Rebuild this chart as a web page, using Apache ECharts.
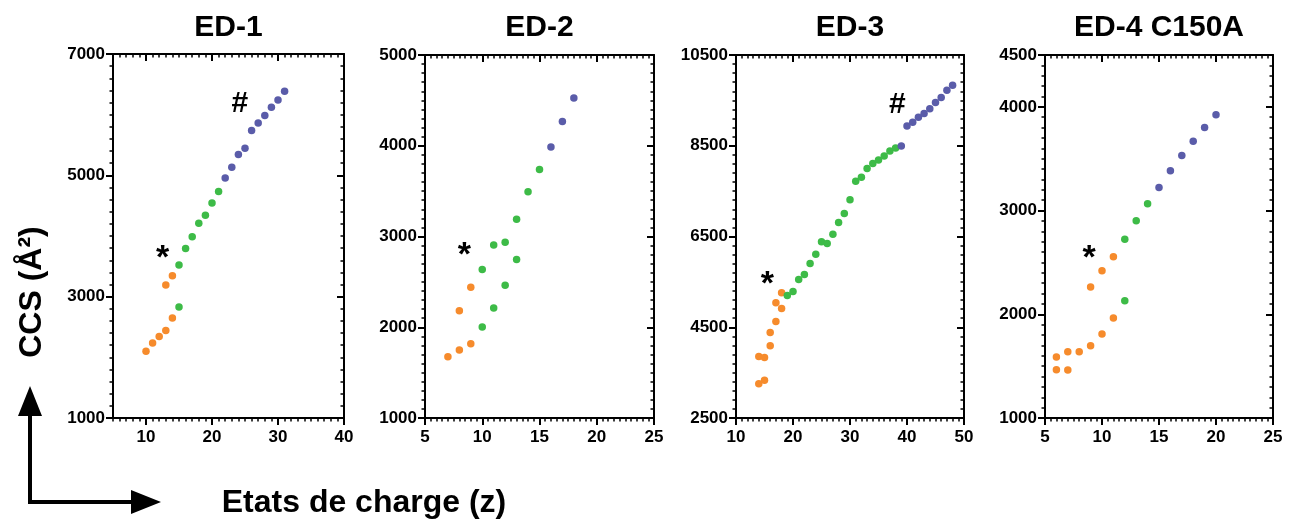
<!DOCTYPE html>
<html><head><meta charset="utf-8">
<script src="https://cdn.jsdelivr.net/npm/echarts@6/dist/echarts.min.js"></script>
<style>html,body{margin:0;padding:0;background:#fff}#c{width:1293px;height:523px}</style>
</head><body><div id="c"></div>
<script>
// ---------- data ----------
const titles = ['ED-1', 'ED-2', 'ED-3', 'ED-4 C150A'];
const yTitle = 'CCS (Å²)';
const xTitle = 'Etats de charge (z)';

const xRanges = [[5, 40], [5, 25], [10, 50], [5, 25]];
const yRanges = [[1000, 7000], [1000, 5000], [2500, 10500], [1000, 4500]];
const xTicks = [[10, 20, 30, 40], [5, 10, 15, 20, 25], [10, 20, 30, 40, 50], [5, 10, 15, 20, 25]];
const yTicks = [[1000, 3000, 5000, 7000], [1000, 2000, 3000, 4000, 5000], [2500, 4500, 6500, 8500, 10500], [1000, 2000, 3000, 4000, 4500]];
const xMinorStep = [1, 0.5, 1, 0.5];
const yMinorStep = [200, 100, 200, 100];

const ed1Orange = [[10,2100],[11,2235],[12,2345],[13,2444],[14,2647],[13,3191],[14,3344]];
const ed1Green  = [[15,2828],[15,3520],[16,3794],[17,3987],[18,4212],[19,4343],[20,4546],[21,4733]];
const ed1Blue   = [[22,4958],[23,5134],[24,5342],[25,5447],[26,5738],[27,5864],[28,5985],[29,6122],[30,6243],[31,6385]];

const ed2Orange = [[7,1675],[8,1749],[9,1818],[8,2182],[9,2442]];
const ed2Green  = [[10,2002],[10,2637],[11,2211],[11,2905],[12,2464],[12,2938],[13,2747],[13,3191],[14,3492],[15,3738]];
const ed2Blue   = [[16,3987],[17,4266],[18,4527]];

const ed3Orange = [[14,3858],[14,3256],[15,3836],[15,3330],[16,4387],[16,4093],[17,4629],[17,5040],[18,4915],[18,5260]];
const ed3Green  = [[19,5201],[20,5289],[21,5553],[22,5664],[23,5906],[24,6111],[25,6383],[26,6346],[27,6552],[28,6809],
                   [29,7007],[30,7308],[31,7719],[32,7807],[33,7997],[34,8107],[35,8188],[36,8276],[37,8386],[38,8452]];
const ed3Blue   = [[39,8496],[40,8937],[41,9018],[42,9128],[43,9208],[44,9318],[45,9451],[46,9561],[47,9722],[48,9832]];

const ed4Orange = [[6,1588],[6,1466],[7,1639],[7,1462],[8,1639],[9,1697],[9,2262],[10,1809],[10,2419],[11,1963],[11,2554]];
const ed4Green  = [[12,2130],[12,2724],[13,2901],[14,3065]];
const ed4Blue   = [[15,3222],[16,3383],[17,3530],[18,3668],[19,3800],[20,3925]];

const ed1Notes = [[12.5, 3800, '*'], [24.2, 6190, '#']];
const ed2Notes = [[8.43, 2897, '*']];
const ed3Notes = [[15.5, 5649, '*'], [38.3, 9436, '#']];
const ed4Notes = [[8.86, 2631, '*']];

const panelOrange = [ed1Orange, ed2Orange, ed3Orange, ed4Orange];
const panelGreen  = [ed1Green, ed2Green, ed3Green, ed4Green];
const panelBlue   = [ed1Blue, ed2Blue, ed3Blue, ed4Blue];
const panelNotes  = [ed1Notes, ed2Notes, ed3Notes, ed4Notes];

// ---------- layout / style ----------
const gridBoxes = [
  {left: 113, top: 54, width: 231, height: 364},
  {left: 425, top: 55, width: 229, height: 363},
  {left: 736, top: 55, width: 228, height: 363},
  {left: 1045, top: 55, width: 228, height: 363}
];
const FONT = '"Liberation Sans", Arial, Helvetica, sans-serif';
const colors = {orange: '#F68B2C', green: '#3DBB47', blue: '#5A5CA9'};

const grids = [], xAxes = [], yAxes = [], series = [], graphics = [];
const axisIdx = [];

function axisGroup(dim, gi, range, ticks, step, list) {
  const mainPos = dim === 'x' ? 'bottom' : 'left';
  const oppPos = dim === 'x' ? 'top' : 'right';
  const base = {type: 'value', gridIndex: gi, min: range[0], max: range[1], interval: step,
    splitLine: {show: false}, minorTick: {show: false}, scale: true};
  const mainIndex = list.length;
  list.push(Object.assign({}, base, {
    position: mainPos,
    axisLine: {show: true, onZero: false, lineStyle: {color: '#000', width: 2}},
    axisTick: {show: true, inside: false, length: 3.5, lineStyle: {color: '#000', width: 1.5}},
    axisLabel: {show: true, customValues: ticks, color: '#000', fontFamily: FONT, fontWeight: 'bold',
      fontSize: 17, margin: dim === 'x' ? 11 : 8, formatter: v => String(v)}
  }));
  list.push(Object.assign({}, base, {
    position: mainPos,
    axisLine: {show: false, onZero: false},
    axisTick: {show: true, inside: false, length: 7, customValues: ticks, lineStyle: {color: '#000', width: 2}},
    axisLabel: {show: false}
  }));
  list.push(Object.assign({}, base, {
    position: oppPos,
    axisLine: {show: true, onZero: false, lineStyle: {color: '#000', width: 2}},
    axisTick: {show: true, inside: true, length: 3.5, lineStyle: {color: '#000', width: 1.5}},
    axisLabel: {show: false}
  }));
  list.push(Object.assign({}, base, {
    position: oppPos,
    axisLine: {show: false, onZero: false},
    axisTick: {show: true, inside: true, length: 7, customValues: ticks, lineStyle: {color: '#000', width: 2}},
    axisLabel: {show: false}
  }));
  return mainIndex;
}

for (let i = 0; i < 4; i++) {
  grids.push(Object.assign({containLabel: false, outerBoundsMode: 'none'}, gridBoxes[i]));
  const xi = axisGroup('x', i, xRanges[i], xTicks[i], xMinorStep[i], xAxes);
  const yi = axisGroup('y', i, yRanges[i], yTicks[i], yMinorStep[i], yAxes);
  axisIdx.push([xi, yi]);
  [[panelOrange[i], colors.orange], [panelGreen[i], colors.green], [panelBlue[i], colors.blue]].forEach(([d, c]) => {
    series.push({type: 'scatter', xAxisIndex: xi, yAxisIndex: yi, data: d, symbol: 'circle', symbolSize: 7.5,
      itemStyle: {color: c, opacity: 1}, silent: true, z: 3});
  });
  graphics.push({type: 'text', x: gridBoxes[i].left + gridBoxes[i].width / 2, y: 28,
    style: {text: titles[i], fill: '#000', font: 'bold 30px ' + FONT, textAlign: 'center', textVerticalAlign: 'middle'}});
}

graphics.push({type: 'text', x: 32, y: 292, rotation: Math.PI / 2,
  style: {text: yTitle, fill: '#000', font: 'bold 32px ' + FONT, textAlign: 'center', textVerticalAlign: 'middle'}});
graphics.push({type: 'text', x: 364, y: 503,
  style: {text: xTitle, fill: '#000', font: 'bold 32px ' + FONT, textAlign: 'center', textVerticalAlign: 'middle'}});
graphics.push({type: 'polyline', shape: {points: [[30, 412], [30, 502], [135, 502]]},
  style: {stroke: '#000', lineWidth: 4, fill: null, lineJoin: 'miter'}});
graphics.push({type: 'polygon', shape: {points: [[30, 386], [18, 416], [42, 416]]}, style: {fill: '#000'}});
graphics.push({type: 'polygon', shape: {points: [[161, 502], [131, 490], [131, 514]]}, style: {fill: '#000'}});

const chart = echarts.init(document.getElementById('c'), null, {renderer: 'canvas'});
chart.setOption({
  animation: false,
  backgroundColor: '#fff',
  grid: grids,
  xAxis: xAxes,
  yAxis: yAxes,
  series: series,
  graphic: graphics
});

// annotation marks placed through the axes' own scales
const noteGraphics = [];
panelNotes.forEach((notes, i) => {
  notes.forEach(n => {
    const p = chart.convertToPixel({xAxisIndex: axisIdx[i][0], yAxisIndex: axisIdx[i][1]}, [n[0], n[1]]);
    const star = n[2] === '*';
    noteGraphics.push({type: 'text', x: p[0], y: p[1] + (star ? 10 : 1), z: 10,
      style: {text: n[2], fill: '#000', font: 'bold ' + (star ? 34 : 30) + 'px ' + FONT,
        textAlign: 'center', textVerticalAlign: 'middle'}});
  });
});
chart.setOption({graphic: graphics.concat(noteGraphics)});
</script>
</body></html>
